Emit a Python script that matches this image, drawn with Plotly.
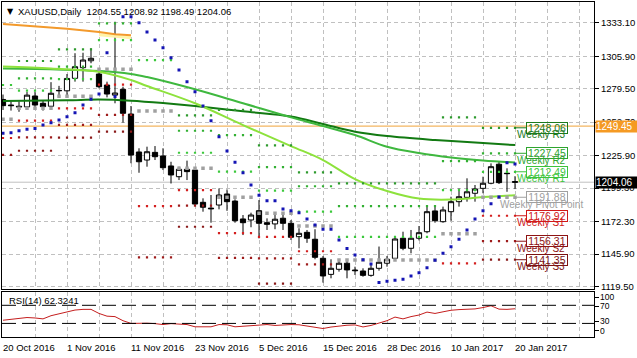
import plotly.graph_objects as go
import pandas as pd

# ---------------- data ----------------
holidays = ["2016-12-26", "2017-01-02"]
dates = [d.strftime("%Y-%m-%d") for d in pd.bdate_range("2016-10-20", "2017-01-20")
         if d.strftime("%Y-%m-%d") not in holidays]

open_ = [1271.0, 1266.5, 1265.5, 1265.0, 1273.8, 1267.9, 1265.5, 1278.0, 1278.0, 1288.1,
         1296.7, 1302.3, 1291.6, 1282.7, 1274.5, 1279.2, 1259.2, 1228.5, 1222.0, 1228.2,
         1225.3, 1217.2, 1208.5, 1214.5, 1213.9, 1187.8, 1183.1, 1185.6, 1194.5, 1188.8,
         1174.3, 1173.5, 1181.0, 1171.3, 1170.3, 1174.9, 1170.8, 1160.0, 1163.5, 1157.9,
         1142.5, 1129.5, 1133.6, 1138.5, 1133.0, 1132.2, 1128.7, 1134.4, 1138.5, 1142.5,
         1158.7, 1150.6, 1158.7, 1164.0, 1180.8, 1172.1, 1180.2, 1188.3, 1191.8, 1195.1,
         1199.1, 1203.2, 1218.6, 1211.3, 1204.55]
high = [1275.0, 1269.5, 1269.5, 1277.0, 1277.3, 1270.4, 1285.0, 1282.0, 1291.6, 1308.4,
        1308.8, 1312.4, 1293.5, 1285.4, 1333.9, 1281.3, 1265.7, 1231.5, 1232.8, 1233.3,
        1231.5, 1220.6, 1216.6, 1221.5, 1215.3, 1191.0, 1193.7, 1199.0, 1198.2, 1190.2,
        1177.5, 1179.4, 1189.6, 1174.8, 1177.5, 1178.9, 1173.5, 1166.8, 1165.4, 1166.0,
        1144.3, 1141.7, 1140.3, 1141.1, 1135.7, 1134.4, 1138.5, 1152.0, 1144.3, 1159.5,
        1164.0, 1165.4, 1168.6, 1184.7, 1184.7, 1184.3, 1192.3, 1199.0, 1207.2, 1201.8,
        1208.5, 1219.3, 1220.6, 1215.3, 1208.92]
low = [1262.5, 1262.0, 1261.0, 1264.0, 1263.0, 1262.0, 1265.0, 1274.5, 1274.6, 1285.4,
       1285.4, 1300.3, 1280.0, 1272.7, 1267.9, 1252.2, 1219.4, 1211.7, 1216.6, 1222.0,
       1213.9, 1203.0, 1205.8, 1205.8, 1185.6, 1180.2, 1171.3, 1182.1, 1180.9, 1171.3,
       1161.3, 1167.6, 1158.6, 1165.4, 1166.0, 1165.4, 1157.3, 1150.6, 1155.0, 1141.7,
       1122.8, 1126.3, 1131.7, 1126.3, 1129.0, 1127.6, 1127.6, 1132.5, 1135.7, 1141.1,
       1149.0, 1146.5, 1157.0, 1162.7, 1171.3, 1171.3, 1172.9, 1184.3, 1188.3, 1188.3,
       1195.1, 1202.4, 1202.6, 1196.3, 1198.49]
close = [1266.0, 1266.0, 1265.0, 1274.5, 1266.5, 1265.2, 1276.0, 1278.3, 1288.0, 1297.5,
         1302.9, 1304.3, 1281.3, 1275.4, 1276.2, 1259.8, 1226.0, 1220.6, 1228.7, 1224.7,
         1215.8, 1209.9, 1214.5, 1212.6, 1186.4, 1183.8, 1182.6, 1193.7, 1188.3, 1172.9,
         1171.3, 1177.5, 1170.8, 1170.0, 1174.1, 1170.8, 1159.5, 1162.7, 1158.7, 1143.3,
         1128.2, 1134.4, 1138.5, 1133.1, 1132.5, 1128.7, 1134.4, 1139.3, 1141.7, 1158.1,
         1150.6, 1158.7, 1163.2, 1180.2, 1172.9, 1181.6, 1188.3, 1192.3, 1196.3, 1198.6,
         1203.2, 1216.6, 1203.7, 1211.0, 1204.06]

# Parabolic SAR dots
sar = [1243.6, 1244.1, 1245.7, 1246.8, 1247.6, 1250.3, 1252.2, 1254.3, 1257.0, 1260.3,
       1266.5, 1271.1, 1275.4, 1308.8, 1273.4, 1338.0, 1338.0, 1333.1, 1325.6, 1319.1,
       1312.9, 1304.8, 1294.8, 1285.3, 1277.3, 1265.7, 1253.8, 1240.8, 1229.3, 1220.1,
       1211.7, 1201.7, 1193.6, 1189.0, 1189.0, 1182.3, 1180.9, 1179.3, 1174.2, 1169.4,
       1165.9, 1165.9, 1157.2, 1150.5, 1145.1, 1141.4, 1137.8, 1123.0, 1124.0, 1124.8,
       1125.6, 1128.1, 1130.7, 1134.8, 1141.0, 1146.5, 1151.8, 1158.0, 1165.3, 1174.2,
       1180.9, 1186.6, 1192.0, 1219.8, 1218.7]

# Moving averages (read at points along each line)
lime_idx = [0, 6, 12, 16, 18, 24, 30, 36, 40, 44, 48, 52, 56, 60, 64]
lime_val = [1297.6, 1296.0, 1293.4, 1286.7, 1281.9, 1267.9, 1250.3, 1233.3, 1222.0, 1206.6,
            1196.9, 1190.8, 1190.0, 1192.0, 1193.6]
mid_idx = [0, 12, 16, 18, 24, 30, 36, 40, 44, 48, 52, 56, 60, 64]
mid_val = [1296.0, 1294.0, 1291.6, 1289.1, 1279.2, 1267.9, 1256.5, 1249.5, 1242.2, 1232.7,
           1227.6, 1224.0, 1221.6, 1220.0]
dark_idx = [0, 8, 12, 16, 20, 24, 30, 36, 40, 44, 48, 54, 60, 64]
dark_val = [1269.7, 1270.3, 1270.9, 1270.0, 1268.1, 1265.7, 1261.4, 1257.2, 1251.1, 1244.9,
            1241.4, 1238.2, 1235.7, 1234.1]
orange_idx = [0, 4, 8, 12, 14, 16]
orange_val = [1332.0, 1330.4, 1328.2, 1325.6, 1323.7, 1322.9]
yellow_idx = [12, 14, 16]
yellow_val = [1323.3, 1322.0, 1321.0]

orange_level = 1249.45
bid_level = 1204.06

# Weekly pivot levels (one value per week block)
week_start = [0, 2, 7, 12, 17, 22, 27, 32, 37, 42, 55, 60]
week_end = [1, 6, 11, 16, 21, 26, 31, 36, 41, 54, 59, 64]
R3 = [None, 1302.1, 1311.6, None, None, 1258.1, 1262.5, 1233.8, 1212.0, 1203.1, 1256.5, 1248.06]
R2 = [None, 1288.1, 1297.5, 1332.5, None, 1245.7, 1242.2, 1216.2, 1200.8, 1184.7, 1221.1, 1227.45]
R1 = [1282.7, 1278.1, 1287.5, 1319.0, 1302.9, 1227.9, 1212.6, 1197.3, 1180.2, 1159.9, 1197.7, 1212.49]
PP = [1254.9, 1263.8, 1273.5, 1295.5, 1261.6, 1215.3, 1191.8, 1179.0, 1168.7, 1141.1, 1162.3, 1191.88]
S1 = [1239.8, 1253.8, 1263.8, 1283.0, 1184.7, 1197.7, 1162.8, 1159.8, 1148.2, None, 1138.4, 1176.92]
S2 = [1226.1, 1240.3, 1250.5, 1258.6, 1143.2, 1185.1, 1142.8, 1142.5, 1137.5, None, None, 1156.31]
S3 = [None, 1229.5, 1240.2, 1244.9, None, 1168.0, None, 1122.0, None, None, None, 1141.35]

rsi = [37, 38.5, 41, 43, 42, 40, 47, 51, 55, 59.5,
       61, 61, 52, 46, 45, 36, 30, 31, 30.5, 29.5,
       27.5, 29.5, 29, 27.5, 22.5, 22, 22.5, 27.5, 27, 22.5,
       24, 26, 27.5, 27.5, 25.5, 27, 27.5, 27, 24, 21.5,
       18.7, 22, 24.5, 26, 26.7, 22.2, 25.5, 30.5, 36, 44,
       40, 45, 48.5, 55, 52, 55.6, 59, 60.5, 61, 62,
       65, 69, 61.5, 61, 62.3241]
rsi_levels = [70, 30]
rsi_scale_text = ["100", "70", "30", "0"]
rsi_scale_pos = [88, 68, 35, 14]   # where the terminal prints those scale labels

price_ticks = [1333.10, 1305.90, 1279.50, 1252.70, 1225.90, 1199.30, 1172.30, 1145.90, 1119.50]
tick_idx = [0, 8, 16, 24, 32, 40, 48, 56, 64]
tick_labels = ["20 Oct 2016", "1 Nov 2016", "11 Nov 2016", "23 Nov 2016", "5 Dec 2016",
               "15 Dec 2016", "28 Dec 2016", "10 Jan 2017", "20 Jan 2017"]

# ---------------- styling ----------------
FONT = "Liberation Sans, Arial, sans-serif"
FS = 9.5
GRID = "#c0c0c0"
RSI_DOMAIN = [0.0, 0.1352]
idx = list(range(len(dates)))

level_sets = [R3, R2, R1, PP, S1, S2, S3]
level_names = ["R3", "R2", "R1", "Pivot Point", "S1", "S2", "S3"]
dot_colors = ["#2e9a2e", "#33b033", "#3cc83c", "#a0a0a0", "#d42020", "#9e1c1c", "#8a1a1a"]
label_colors = ["#1c7a1c", "#2ea52e", "#3cc43c", "#a0a0a0", "#d01818", "#8e1414", "#7c1212"]

fig = go.Figure()

# candles
fig.add_trace(go.Candlestick(
    x=idx, open=open_, high=high, low=low, close=close,
    increasing=dict(line=dict(color="black", width=1), fillcolor="white"),
    decreasing=dict(line=dict(color="black", width=1), fillcolor="black"),
    whiskerwidth=0, hoverinfo="skip", showlegend=False, xaxis="x", yaxis="y"))

# moving averages
fig.add_trace(go.Scatter(x=yellow_idx, y=yellow_val, mode="lines",
                         line=dict(color="#fff3a8", width=3), showlegend=False, hoverinfo="skip"))
fig.add_trace(go.Scatter(x=orange_idx, y=orange_val, mode="lines",
                         line=dict(color="#f39a2c", width=2), showlegend=False, hoverinfo="skip"))
fig.add_trace(go.Scatter(x=dark_idx, y=dark_val, mode="lines", line_shape="spline",
                         line=dict(color="#127a12", width=2), showlegend=False, hoverinfo="skip"))
fig.add_trace(go.Scatter(x=mid_idx, y=mid_val, mode="lines", line_shape="spline",
                         line=dict(color="#3fb83f", width=2), showlegend=False, hoverinfo="skip"))
fig.add_trace(go.Scatter(x=lime_idx, y=lime_val, mode="lines", line_shape="spline",
                         line=dict(color="#8de23c", width=2), showlegend=False, hoverinfo="skip"))

# weekly pivot dots
for lv, name, col in zip(level_sets, level_names, dot_colors):
    xs, ys = [], []
    for s, e, v in zip(week_start, week_end, lv):
        if v is None:
            continue
        for i in range(s, e + 1):
            xs.append(i)
            ys.append(v)
    size = 3.5 if name == "Pivot Point" else 2.2
    fig.add_trace(go.Scatter(x=xs, y=ys, mode="markers",
                             marker=dict(symbol="square", size=size, color=col, line=dict(width=0)),
                             showlegend=False, hoverinfo="skip"))

# SAR
fig.add_trace(go.Scatter(x=idx, y=sar, mode="markers",
                         marker=dict(symbol="square", size=3, color="#1414b4", line=dict(width=0)),
                         showlegend=False, hoverinfo="skip"))

# pivot label connectors
last = len(idx) - 1
for lv, col in zip(level_sets, label_colors):
    v = lv[-1]
    fig.add_trace(go.Scatter(x=[last, last + 1.5], y=[v, v], mode="lines",
                             line=dict(color=col, width=1), showlegend=False, hoverinfo="skip"))

# RSI
fig.add_trace(go.Scatter(x=idx, y=rsi, mode="lines", line=dict(color="#c41e1e", width=1),
                         showlegend=False, hoverinfo="skip", xaxis="x2", yaxis="y2"))

shapes = []
for lvl in rsi_levels:
    shapes.append(dict(type="line", xref="x2 domain", x0=0, x1=1, yref="y2", y0=lvl, y1=lvl,
                       line=dict(color="black", width=1, dash="14px,6px")))
shapes.append(dict(type="line", xref="x domain", x0=0, x1=1, yref="y", y0=orange_level, y1=orange_level,
                   line=dict(color="#f0a33a", width=1), layer="below"))
shapes.append(dict(type="line", xref="x domain", x0=0, x1=1, yref="y", y0=bid_level, y1=bid_level,
                   line=dict(color="#c0c0c0", width=1), layer="below"))

annotations = []
# header
annotations.append(dict(xref="paper", yref="paper", x=0, y=1, xanchor="left", yanchor="middle",
                        xshift=3, yshift=-9, text="▼", showarrow=False,
                        font=dict(family="DejaVu Sans", size=8, color="black")))
annotations.append(dict(xref="paper", yref="paper", x=0, y=1, xanchor="left", yanchor="middle",
                        xshift=14, yshift=-9, showarrow=False,
                        text="XAUUSD,Daily&nbsp; %.2f %.2f %.2f %.2f" % (open_[-1], high[-1], low[-1], close[-1]),
                        font=dict(family=FONT, size=FS, color="black")))
annotations.append(dict(xref="paper", yref="paper", x=0, y=RSI_DOMAIN[1], xanchor="left", yanchor="middle",
                        xshift=5, yshift=-9, showarrow=False, text="RSI(14) %.4f" % rsi[-1],
                        font=dict(family=FONT, size=FS, color="black")))
# RSI scale labels
for t, p in zip(rsi_scale_text, rsi_scale_pos):
    ypaper = RSI_DOMAIN[0] + (RSI_DOMAIN[1] - RSI_DOMAIN[0]) * p / 100.0
    annotations.append(dict(xref="paper", yref="paper", x=1, y=ypaper, xanchor="left", yanchor="middle",
                            xshift=5, showarrow=False, text=t, borderpad=0,
                            font=dict(family=FONT, size=8.5, color="black")))
# date labels
for ti, tl in zip(tick_idx, tick_labels):
    annotations.append(dict(xref="x2", yref="paper", x=ti, y=0, xanchor="left", yanchor="middle",
                            xshift=-2, yshift=-10, showarrow=False, text=tl,
                            font=dict(family=FONT, size=FS, color="black")))
# right-axis price boxes
annotations.append(dict(xref="paper", yref="y", x=1, y=orange_level, xanchor="left", yanchor="middle",
                        xshift=1, showarrow=False, text="%.2f" % orange_level, width=42, height=11,
                        align="left", bgcolor="#f59a23", borderpad=0,
                        font=dict(family=FONT, size=FS + 0.5, color="white")))
annotations.append(dict(xref="paper", yref="y", x=1, y=bid_level, xanchor="left", yanchor="middle",
                        xshift=1, showarrow=False, text="%.2f" % bid_level, width=42, height=11,
                        align="left", bgcolor="black", borderpad=0,
                        font=dict(family=FONT, size=FS + 0.5, color="white")))
# pivot labels
for lv, name, col in zip(level_sets, level_names, label_colors):
    v = lv[-1]
    annotations.append(dict(xref="x", yref="y", x=last + 3.25, y=v, xanchor="center", yanchor="middle",
                            yshift=-7, showarrow=False, text="Weekly " + name,
                            font=dict(family=FONT, size=FS + 0.5, color=col)))
    annotations.append(dict(xref="x", yref="y", x=last + 4, y=v, xanchor="center", yanchor="middle",
                            showarrow=False, text="%.2f" % v, width=40, height=10,
                            bordercolor=col, borderwidth=1, borderpad=0,
                            font=dict(family=FONT, size=FS + 1, color=col)))

xcommon = dict(range=[-0.125, 73.875], showticklabels=False, showgrid=True, gridcolor=GRID,
               griddash="4px,3px", gridwidth=1, dtick=4, tick0=0, ticks="", zeroline=False,
               showline=True, mirror=True, linecolor="black", linewidth=1)

fig.update_layout(
    width=637, height=358,
    margin=dict(l=2, r=43, t=2, b=21, autoexpand=False),
    paper_bgcolor="white", plot_bgcolor="white",
    showlegend=False,
    boxgap=0.35, boxgroupgap=0,
    xaxis=dict(**xcommon, anchor="y", rangeslider=dict(visible=False)),
    xaxis2=dict(**xcommon, anchor="y2", matches="x"),
    yaxis=dict(domain=[0.1442, 1.0], range=[1117.9, 1349.85], side="right",
               tickvals=price_ticks, ticktext=["%.2f" % t for t in price_ticks],
               ticks="outside", ticklen=4, tickcolor="black",
               tickfont=dict(family=FONT, size=FS, color="black"),
               showgrid=True, gridcolor=GRID, griddash="4px,3px", zeroline=False,
               showline=True, mirror=True, linecolor="black", linewidth=1, anchor="x"),
    yaxis2=dict(domain=RSI_DOMAIN, range=[0, 100], side="right",
                tickvals=rsi_scale_pos, ticktext=["", "", "", ""],
                ticks="outside", ticklen=4, tickcolor="black",
                showgrid=False, zeroline=False,
                showline=True, mirror=True, linecolor="black", linewidth=1, anchor="x2"),
    shapes=shapes,
    annotations=annotations,
)

fig.write_html("out.html", config={"displayModeBar": False},
               post_script="document.body.style.margin='0';document.body.style.padding='0';")
